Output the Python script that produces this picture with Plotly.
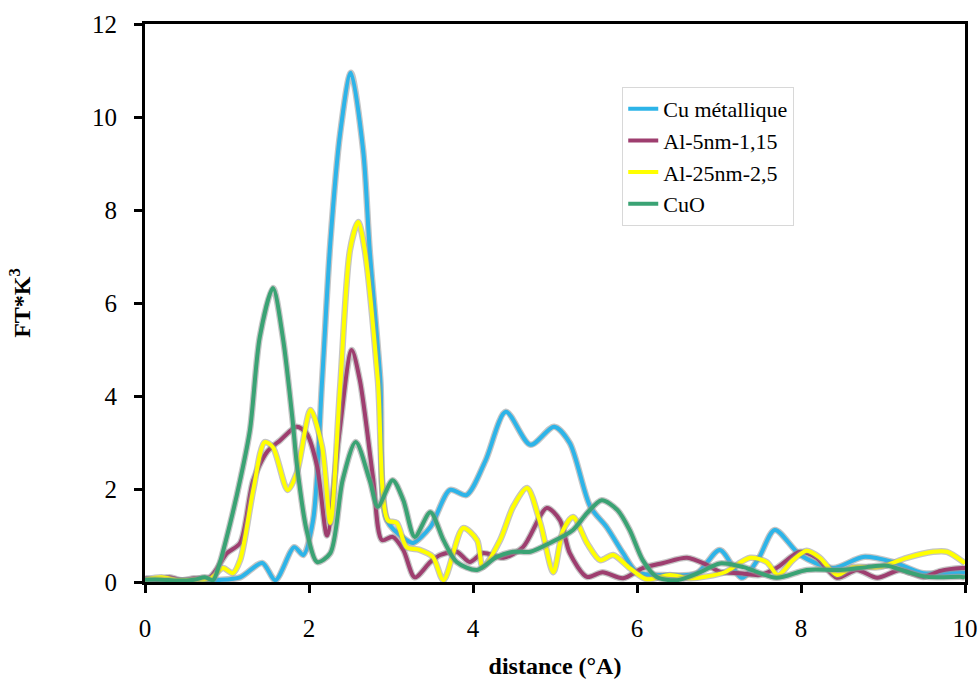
import plotly.graph_objects as go

# ---- data ----
names = ["Cu métallique", "Al-5nm-1,15", "Al-25nm-2,5", "CuO"]

cu_x = [0, 0.3, 0.6, 0.88, 1.16, 1.43, 1.59, 1.82, 1.93, 2.05, 2.16, 2.26, 2.38, 2.51, 2.66, 2.74, 2.87,
        2.95, 3.19, 3.27, 3.48, 3.72, 3.92, 4.15, 4.40, 4.70, 4.99, 5.18, 5.43, 5.63, 5.83, 6.0, 6.32,
        6.73, 7.01, 7.28, 7.48, 7.68, 7.99, 8.39, 8.76, 9.12, 9.49, 9.94, 10]
cu_y = [0.05, 0.05, 0.02, 0.04, 0.1, 0.41, 0.04, 0.75, 0.58, 1.33, 4.34, 7.3, 9.65, 10.95, 9.29, 7.14, 4.34,
        1.33, 0.9, 0.84, 1.18, 1.98, 1.87, 2.6, 3.66, 2.95, 3.34, 2.99, 1.62, 1.18, 0.62, 0.21, 0.15,
        0.19, 0.69, 0.09, 0.5, 1.12, 0.58, 0.30, 0.54, 0.43, 0.19, 0.21, 0.2]

al5_x = [0, 0.15, 0.3, 0.45, 0.6, 0.79, 1.0, 1.16, 1.32, 1.49, 1.65, 1.85, 1.97, 2.1, 2.22, 2.37, 2.52,
         2.62, 2.78, 2.89, 3.02, 3.15, 3.29, 3.48, 3.6, 3.8, 3.96, 4.12, 4.37, 4.61, 4.9, 5.06, 5.18,
         5.39, 5.58, 5.83, 6.07, 6.32, 6.61, 6.85, 7.01, 7.26, 7.5, 7.7, 7.99, 8.19, 8.44, 8.68, 8.93,
         9.21, 9.49, 9.7, 9.96, 10]
al5_y = [0.08, 0.05, 0.1, 0.04, 0.08, 0.1, 0.62, 0.84, 2.19, 2.8, 3.05, 3.34, 3.2, 2.48, 1.0, 3.2, 4.99,
         4.34, 2.26, 0.9, 0.97, 0.69, 0.1, 0.43, 0.58, 0.65, 0.43, 0.62, 0.52, 0.75, 1.59, 1.33, 0.62,
         0.11, 0.21, 0.08, 0.3, 0.41, 0.52, 0.37, 0.22, 0.19, 0.15, 0.3, 0.65, 0.52, 0.09, 0.26, 0.09,
         0.26, 0.11, 0.24, 0.3, 0.3]

al25_x = [0, 0.2, 0.4, 0.6, 0.8, 0.95, 1.07, 1.16, 1.32, 1.46, 1.56, 1.74, 1.85, 2.02, 2.16, 2.26, 2.38,
          2.5, 2.6, 2.68, 2.84, 2.96, 3.07, 3.19, 3.35, 3.51, 3.64, 3.88, 4.05, 4.12, 4.33, 4.49, 4.66,
          4.82, 4.98, 5.1, 5.22, 5.39, 5.55, 5.71, 5.91, 6.12, 6.4, 6.65, 6.85, 7.07, 7.38, 7.58, 7.72,
          7.9, 8.07, 8.23, 8.44, 8.63, 8.96, 9.29, 9.61, 9.78, 9.98, 10]
al25_y = [0.05, 0.1, 0.04, 0.05, 0.08, 0.3, 0.19, 0.47, 1.98, 3.01, 2.9, 1.98, 2.34, 3.7, 2.9, 1.27, 4.2,
          7.14, 7.74, 7.14, 4.34, 1.33, 1.27, 0.75, 0.69, 0.54, 0.04, 1.16, 0.9, 0.32, 0.9, 1.62, 2.02,
          1.27, 0.21, 1.12, 1.4, 0.84, 0.47, 0.58, 0.3, 0.06, 0.15, 0.08, 0.12, 0.21, 0.52, 0.43, 0.15,
          0.47, 0.67, 0.52, 0.15, 0.32, 0.32, 0.52, 0.65, 0.65, 0.43, 0.4]

cuo_x = [0, 0.2, 0.4, 0.6, 0.73, 0.83, 0.91, 1.04, 1.16, 1.28, 1.4, 1.56, 1.68, 1.8, 1.85, 1.97, 2.1,
         2.26, 2.41, 2.57, 2.74, 2.84, 3.02, 3.15, 3.29, 3.48, 3.64, 3.8, 4.05, 4.29, 4.49, 4.7, 4.94,
         5.22, 5.39, 5.57, 5.76, 5.91, 6.07, 6.24, 6.49, 6.77, 7.01, 7.3, 7.7, 8.07, 8.48, 8.8, 9.05,
         9.29, 9.54, 9.96, 10]
cuo_y = [0.05, 0.05, 0.03, 0.05, 0.1, 0.04, 0.4, 1.27, 2.19, 3.27, 5.27, 6.32, 5.27, 3.48, 2.56, 1.12, 0.43,
         0.62, 2.19, 3.01, 2.19, 1.62, 2.19, 1.76, 0.97, 1.5, 0.9, 0.43, 0.26, 0.54, 0.65, 0.65, 0.84,
         1.12, 1.48, 1.76, 1.55, 1.12, 0.47, 0.11, 0.04, 0.21, 0.4, 0.32, 0.09, 0.26, 0.26, 0.32, 0.35,
         0.22, 0.11, 0.11, 0.1]

x_ticks = [0, 2, 4, 6, 8, 10]
y_ticks = [0, 2, 4, 6, 8, 10, 12]

colors = ["#2DB4E8", "#9E3E6F", "#FFFF00", "#3AA374"]
series = [(cu_x, cu_y), (al5_x, al5_y), (al25_x, al25_y), (cuo_x, cuo_y)]

FONT = "Liberation Serif, Times New Roman, serif"

fig = go.Figure()
for i, ((xs, ys), name, col) in enumerate(zip(series, names, colors)):
    fig.add_trace(go.Scatter(x=xs, y=ys, mode="lines", showlegend=False, hoverinfo="skip",
                             legendgroup=f"g{i}",
                             line=dict(color="rgba(150,150,150,0.55)", width=6.5, shape="spline", smoothing=0.8)))
    fig.add_trace(go.Scatter(x=xs, y=ys, mode="lines", name=name, legendgroup=f"g{i}",
                             line=dict(color=col, width=4, shape="spline", smoothing=0.8)))

fig.update_layout(
    width=980, height=690,
    margin=dict(l=145, r=15, t=24, b=108),
    paper_bgcolor="white", plot_bgcolor="white",
    font=dict(family=FONT, size=25, color="black"),
    showlegend=True,
    legend=dict(x=0.582, y=0.887, xanchor="left", yanchor="top",
                bgcolor="white", bordercolor="#d8d8d8", borderwidth=1,
                font=dict(family=FONT, size=22, color="black"),
                tracegroupgap=0, traceorder="grouped"),
    xaxis=dict(range=[0, 10], tickvals=x_ticks, ticktext=[str(v) for v in x_ticks],
               showline=True, linecolor="black", linewidth=3, mirror=True,
               ticks="outside", ticklen=8, tickwidth=2.5, tickcolor="black",
               showgrid=False, zeroline=False, ticklabelstandoff=14, automargin=False,
               tickfont=dict(family=FONT, size=25),
               title=dict(text="<b>distance (°A)</b>", font=dict(family=FONT, size=24), standoff=17)),
    yaxis=dict(range=[0, 12], tickvals=y_ticks, ticktext=[str(v) for v in y_ticks],
               showline=True, linecolor="black", linewidth=3, mirror=True,
               ticks="outside", ticklen=8, tickwidth=2.5, tickcolor="black",
               showgrid=False, zeroline=False, ticklabelstandoff=12, automargin=False,
               tickfont=dict(family=FONT, size=25),
               title=dict(text="<b>FT*K<sup>3</sup></b>", font=dict(family=FONT, size=24), standoff=55)),
)

# remove the default page margin so the 980x690 figure fills the window exactly
fig.write_html("out.html", config={"displayModeBar": False},
               post_script="document.body.style.margin='0';document.body.style.overflow='hidden';")
